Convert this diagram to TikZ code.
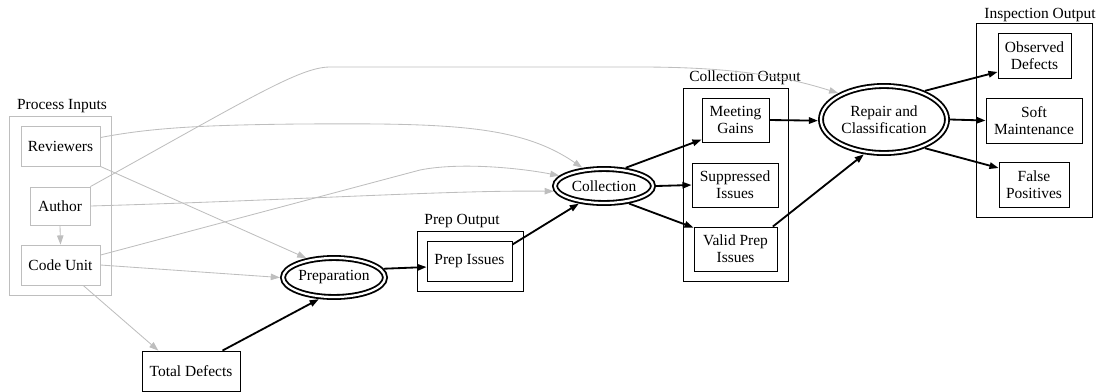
\documentclass[tikz,border=0pt]{standalone}
\usepackage{fontspec}
\setmainfont{Liberation Serif}
\usepackage{tikz}
\usetikzlibrary{arrows.meta,positioning,shapes.geometric}
\definecolor{ink}{HTML}{000000}
\definecolor{inkgray}{HTML}{BEBEBE}
\newcommand{\pxl}{0.025cm}
\tikzset{
  unitbox/.style n args={2}{draw=ink,line width=0.6pt,rectangle,inner sep=0pt,
                  minimum width=#1*\pxl,minimum height=#2*\pxl,align=center,
                  font=\fontsize{11}{12}\selectfont},
  inbox/.style n args={2}{unitbox={#1}{#2},draw=inkgray},
  stage/.style n args={2}{ellipse,draw=ink,line width=1.3pt,double=white,
                  double distance=1.6pt,inner sep=0pt,outer sep=2.2pt,
                  minimum width=#1*\pxl,minimum height=#2*\pxl,align=center,
                  font=\fontsize{11}{12}\selectfont},
  clustertitle/.style={font=\fontsize{11}{12}\selectfont,inner sep=0pt},
  flowarr/.style={-{Triangle[length=6.5pt,width=4.6pt]},line width=1.3pt,color=ink},
  softarr/.style={-{Triangle[length=6.5pt,width=4.6pt]},line width=0.6pt,color=inkgray}
}

\begin{document}
\begin{tikzpicture}[x=0.025cm,y=-0.025cm]
  \useasboundingbox (0,0) rectangle (1099,391);
  % ---- clusters ----
  \draw[inkgray,line width=0.6pt] (9,116) rectangle (111,295);
  \node[clustertitle] (tinputs) at (62,106) {Process Inputs};
  \draw[ink,line width=0.6pt] (417,231) rectangle (523,291);
  \node[clustertitle] (tprep) at (462,221) {Prep Output};
  \draw[ink,line width=0.6pt] (683,88) rectangle (788,281);
  \node[clustertitle] (tcoll) at (745,78) {Collection Output};
  \draw[ink,line width=0.6pt] (976,23) rectangle (1092,217);
  \node[clustertitle] (tinsp) at (1040,15) {Inspection Output};
  % ---- inputs ----
  \node[inbox={79}{40}] (rev) at (60.5,146) {Reviewers};
  \node[inbox={60}{38}] (auth) at (60,206) {Author};
  \node[inbox={79}{40}] (cu) at (60.5,265) {Code Unit};
  \node[unitbox={98}{40}] (tot) at (191,371) {Total Defects};
  % ---- stages ----
  \node[stage={102}{39}] (prep) at (334,277.5) {Preparation};
  \node[stage={98}{34}] (coll) at (604,186) {Collection};
  \node[stage={126}{67}] (rep) at (884,119.5) {Repair and\\Classification};
  % ---- outputs ----
  \node[unitbox={85}{40}] (pi) at (469.5,261) {Prep Issues};
  \node[unitbox={67}{44}] (mg) at (735.5,120) {Meeting\\Gains};
  \node[unitbox={86}{44}] (si) at (735,185) {Suppressed\\Issues};
  \node[unitbox={83}{44}] (vp) at (735.5,249) {Valid Prep\\Issues};
  \node[unitbox={73}{45}] (od) at (1034.5,55.5) {Observed\\Defects};
  \node[unitbox={96}{45}] (sm) at (1034,120.5) {Soft\\Maintenance};
  \node[unitbox={70}{45}] (fp) at (1034,184.5) {False\\Positives};
  % ---- gray input edges ----
  \draw[softarr] (auth.south) -- (cu.north);
  \draw[softarr] (rev.12) .. controls (150,128) and (200,125) .. (300,124)
    .. controls (450,123) and (520,125) .. (coll.140);
  \draw[softarr] (rev.south east) -- (prep.145);
  \draw[softarr] (auth.north east) .. controls (250,98) and (300,67) .. (330,67)
    -- (640,67) .. controls (740,67) and (790,78) .. (rep.150);
  \draw[softarr] (auth.east) .. controls (300,200) and (450,190) .. (coll.186);
  \draw[softarr] (cu.14) -- (420,170) .. controls (460,162) and (520,168) .. (coll.167);
  \draw[softarr] (cu.east) -- (prep.west);
  \draw[softarr] (cu.-42) -- (tot.148);
  % ---- black flow edges ----
  \draw[flowarr] (tot.33) -- (prep.235);
  \draw[flowarr] (prep.10) -- (pi.188);
  \draw[flowarr] (pi.21) -- (coll.215);
  \draw[flowarr] (coll.40) -- (mg.210);
  \draw[flowarr] (coll.east) -- (si.west);
  \draw[flowarr] (coll.-35) -- (vp.153);
  \draw[flowarr] (mg.east) -- (rep.181);
  \draw[flowarr] (vp.31) -- (rep.240);
  \draw[flowarr] (rep.35) -- (od.204);
  \draw[flowarr] (rep.east) -- (sm.west);
  \draw[flowarr] (rep.-35) -- (fp.155);
\end{tikzpicture}
\end{document}
